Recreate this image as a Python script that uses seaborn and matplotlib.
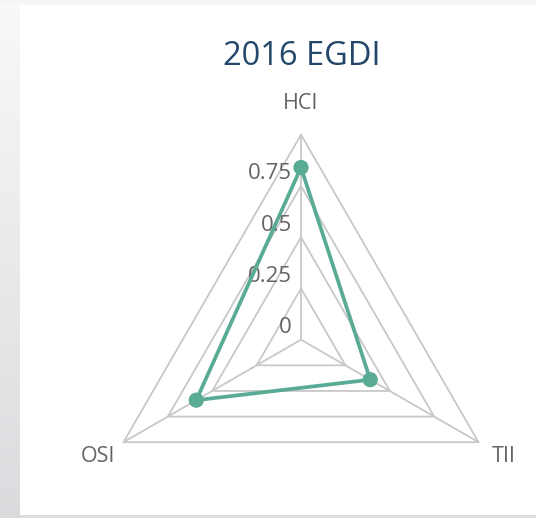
import numpy as np
import pandas as pd
import matplotlib
matplotlib.use("Agg")
import matplotlib.pyplot as plt
from matplotlib.patches import Rectangle
import seaborn as sns

# ---- data ----
categories = ["HCI", "TII", "OSI"]
values = [0.84, 0.39, 0.59]
grid_levels = [0.25, 0.5, 0.75, 1.0]
tick_values = [0, 0.25, 0.5, 0.75]
tick_labels = ["0", "0.25", "0.5", "0.75"]
title = "2016 EGDI"

sns.set_style("white")
plt.rcParams["font.family"] = ["Open Sans", "DejaVu Sans"]

W, H = 536, 518
fig = plt.figure(figsize=(W / 100, H / 100), dpi=100)

# ---- background (page strip + white card) ----
bg = fig.add_axes([0, 0, 1, 1])
bg.set_xlim(0, W)
bg.set_ylim(H, 0)
bg.axis("off")
grad = np.linspace(0, 1, 256).reshape(-1, 1)
top_c = np.array([0.975, 0.975, 0.975])
bot_c = np.array([0.855, 0.86, 0.87])
img = top_c[None, None, :] * (1 - grad[:, :, None]) + bot_c[None, None, :] * grad[:, :, None]
bg.imshow(img, extent=(0, W, H, 0), aspect="auto", zorder=0)
bg.add_patch(Rectangle((0, 0), W, 5, color="#f6f6f6", zorder=1, lw=0))
bg.add_patch(Rectangle((20, 5), W - 20, 510, color="white", zorder=2, lw=0))
bg.add_patch(Rectangle((20, 515), W - 20, 3, color="#dcdcdc", zorder=2, lw=0))

# ---- radar ----
cx, cy, R = 301.0, 339.7, 205.0
ax = fig.add_axes([(cx - R) / W, (H - cy - R) / H, 2 * R / W, 2 * R / H],
                  projection="polar")
ax.patch.set_alpha(0)
ax.set_theta_offset(np.pi / 2)
ax.set_theta_direction(-1)
ax.set_ylim(0, 1)
ax.grid(False)
ax.spines["polar"].set_visible(False)
ax.set_xticks([])
ax.set_yticks([])

angles = np.linspace(0, 2 * np.pi, len(categories), endpoint=False)
grid_col = "#c8c8c8"
for lvl in grid_levels:
    ax.plot(list(angles) + [angles[0]], [lvl] * (len(angles) + 1),
            color=grid_col, lw=1.3, clip_on=False, zorder=1)
for a in angles:
    ax.plot([a, a], [0, 1], color=grid_col, lw=1.3, clip_on=False, zorder=1)

green = "#5aab96"
df = pd.DataFrame({"theta": list(angles) + [2 * np.pi],
                   "value": values + [values[0]]})
sns.lineplot(data=df, x="theta", y="value", sort=False, ax=ax, color=green,
             lw=2.7, zorder=3, clip_on=False)
sns.scatterplot(x=angles, y=values, ax=ax, color=green, s=120,
                edgecolor="none", zorder=4, clip_on=False)
ax.set_xlabel("")
ax.set_ylabel("")

# radial tick labels
for v, lab in zip(tick_values, tick_labels):
    ax.annotate(lab, xy=(0, v), xytext=(-9, 12), textcoords="offset pixels",
                ha="right", va="center", fontsize=16, color="#646464", zorder=2)

# category labels
offsets = [(0, 31), (25, -14), (-26, -14)]
for a, lab, off in zip(angles, categories, offsets):
    ax.annotate(lab, xy=(a, 1.0), xytext=off, textcoords="offset pixels",
                ha="center", va="center", fontsize=15.5, color="#646464")

fig.text(301.5 / W, 1 - 56.5 / H, title, ha="center", va="center",
         fontsize=23.5, color="#23476b")

fig.savefig("out.png", dpi=100)
